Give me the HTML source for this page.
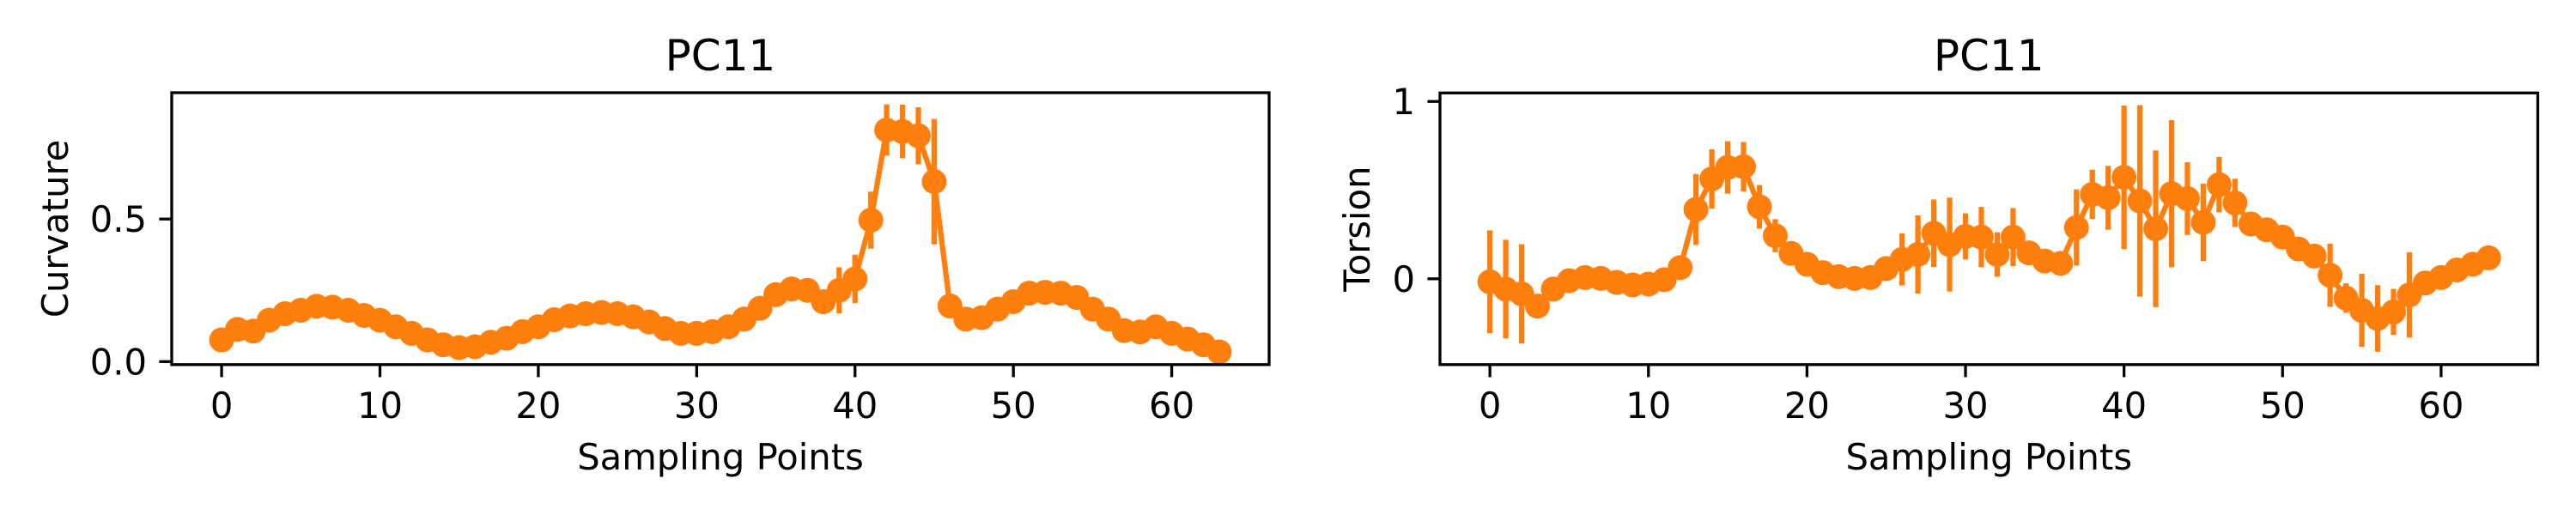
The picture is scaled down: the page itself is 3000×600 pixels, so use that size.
<!DOCTYPE html>
<html><head><meta charset="utf-8"><style>
html,body{margin:0;padding:0;background:#fff}
svg{display:block}
text{font-family:"DejaVu Sans","Liberation Sans",sans-serif;fill:#000}
</style></head>
<body>
<svg id="fig" xmlns="http://www.w3.org/2000/svg" width="3000" height="600" viewBox="0 0 3000 600"></svg>
<script>
const xIndex = Array.from({length:64},(_, i)=>i);
const curvature = [0.076,0.113,0.107,0.145,0.168,0.18,0.194,0.191,0.18,0.162,0.145,0.122,0.099,0.076,0.059,0.049,0.052,0.068,0.082,0.105,0.122,0.147,0.16,0.168,0.172,0.168,0.157,0.139,0.116,0.099,0.099,0.105,0.122,0.149,0.187,0.235,0.255,0.25,0.21,0.25,0.29,0.496,0.812,0.807,0.792,0.631,0.195,0.149,0.154,0.184,0.21,0.24,0.243,0.24,0.225,0.184,0.149,0.109,0.104,0.122,0.099,0.079,0.059,0.034];
const curvatureErr = [0,0,0,0,0,0,0,0,0,0,0,0,0,0,0,0,0,0,0,0,0,0,0,0,0,0,0,0,0,0,0,0,0,0,0,0,0,0,0,0.081,0.085,0.1,0.09,0.094,0.1,0.22,0,0,0,0,0,0,0,0,0,0,0,0,0,0,0,0,0,0];
const torsion = [-0.017,-0.058,-0.085,-0.154,-0.058,-0.011,0.007,0.002,-0.02,-0.035,-0.03,-0.005,0.063,0.391,0.563,0.628,0.632,0.406,0.243,0.143,0.082,0.035,0.012,0.002,0.007,0.058,0.109,0.137,0.257,0.193,0.239,0.235,0.137,0.235,0.146,0.1,0.087,0.289,0.476,0.457,0.572,0.439,0.282,0.48,0.452,0.318,0.531,0.428,0.309,0.276,0.235,0.168,0.128,0.02,-0.109,-0.178,-0.224,-0.187,-0.091,-0.024,0.007,0.05,0.082,0.118];
const torsionErr = [0.29,0.278,0.28,0,0,0,0,0,0,0,0,0,0,0.2,0.167,0.148,0.139,0.123,0.093,0,0,0,0,0,0,0,0.147,0.22,0.19,0.265,0.13,0.17,0.125,0.164,0,0,0,0.215,0.139,0.18,0.405,0.54,0.442,0.415,0.205,0.219,0.156,0.136,0,0,0,0,0,0.178,0.083,0.206,0.188,0.13,0.241,0,0,0,0,0];
const xTicks = [0,10,20,30,40,50,60];
const curvTicks = [0.0,0.5];
const curvTickLabels = ["0.0","0.5"];
const torsTicks = [0,1];
const torsTickLabels = ["0","1"];

const NS="http://www.w3.org/2000/svg";
const svg=document.getElementById('fig');
function mk(tag,attrs,parent){const e=document.createElementNS(NS,tag);for(const k in attrs)e.setAttribute(k,attrs[k]);(parent||svg).appendChild(e);return e;}
const C="#ff7f0e";

function panel(opt){
  const g=mk('g',{});
  
  
  const X=v=>opt.x0+(v-opt.xmin)/(opt.xmax-opt.xmin)*(opt.x1-opt.x0);
  const Y=v=>opt.y1-(v-opt.ymin)/(opt.ymax-opt.ymin)*(opt.y1-opt.y0);
  const eg=mk('g',{},g);
  
  
  opt.vals.forEach((v,i)=>{
    const e=opt.err[i]; if(!e) return;
    const l=mk('line',{x1:X(xIndex[i]),x2:X(xIndex[i]),y1:Y(v-e),y2:Y(v+e),stroke:C,'stroke-width':6.25},eg);
    
    
  });
  const pts=opt.vals.map((v,i)=>X(xIndex[i]).toFixed(1)+','+Y(v).toFixed(1)).join(' ');
  const pl=mk('polyline',{points:pts,fill:'none',stroke:C,'stroke-width':6.25,'stroke-linejoin':'round'},g);
  
  
  opt.vals.forEach((v,i)=>{
    const c=mk('circle',{cx:X(xIndex[i]),cy:Y(v),r:14.5,fill:C},g);
    
    
  });
  const fr=mk('rect',{x:opt.x0,y:opt.y0,width:opt.x1-opt.x0,height:opt.y1-opt.y0,fill:'none',stroke:'#000','stroke-width':3.3},g);
  
  
  xTicks.forEach(t=>{
    const x=X(t);
    mk('line',{x1:x,x2:x,y1:opt.y1,y2:opt.y1+14.6,stroke:'#000','stroke-width':3.3},g);
    const tx=mk('text',{x:x,y:487,'font-size':41.7,'text-anchor':'middle'},g);
    tx.textContent=t;
    
    
  });
  opt.yt.forEach((t,i)=>{
    const y=Y(t);
    mk('line',{x1:opt.x0-14.6,x2:opt.x0,y1:y,y2:y,stroke:'#000','stroke-width':3.3},g);
    const tx=mk('text',{x:opt.x0-29,y:y+15,'font-size':41.7,'text-anchor':'end'},g);
    tx.textContent=opt.ytl[i];
    
    
  });
  const cx=(opt.x0+opt.x1)/2;
  const ti=mk('text',{x:cx,y:82,'font-size':50,'text-anchor':'middle'},g);
  ti.textContent=opt.title;
  
  
  const xl=mk('text',{x:cx,y:547,'font-size':41.7,'text-anchor':'middle'},g);
  xl.textContent='Sampling Points';
  
  
  const yc=(opt.y0+opt.y1)/2;
  const yl=mk('text',{x:opt.ylx,y:yc,'font-size':41.7,'text-anchor':'middle',transform:`rotate(-90 ${opt.ylx} ${yc})`},g);
  yl.textContent=opt.ylabel;
  
  
}
panel({name:'curvature-panel',x0:200,x1:1478,y0:108,y1:424.8,xmin:-3.15,xmax:66.15,ymin:-0.0105,ymax:0.943,vals:curvature,err:curvatureErr,yt:curvTicks,ytl:curvTickLabels,title:'PC11',ylabel:'Curvature',ylx:79});
panel({name:'torsion-panel',x0:1677,x1:2955.5,y0:108.3,y1:424.8,xmin:-3.15,xmax:66.1,ymin:-0.484,ymax:1.048,vals:torsion,err:torsionErr,yt:torsTicks,ytl:torsTickLabels,title:'PC11',ylabel:'Torsion',ylx:1595});
</script>
</body></html>
